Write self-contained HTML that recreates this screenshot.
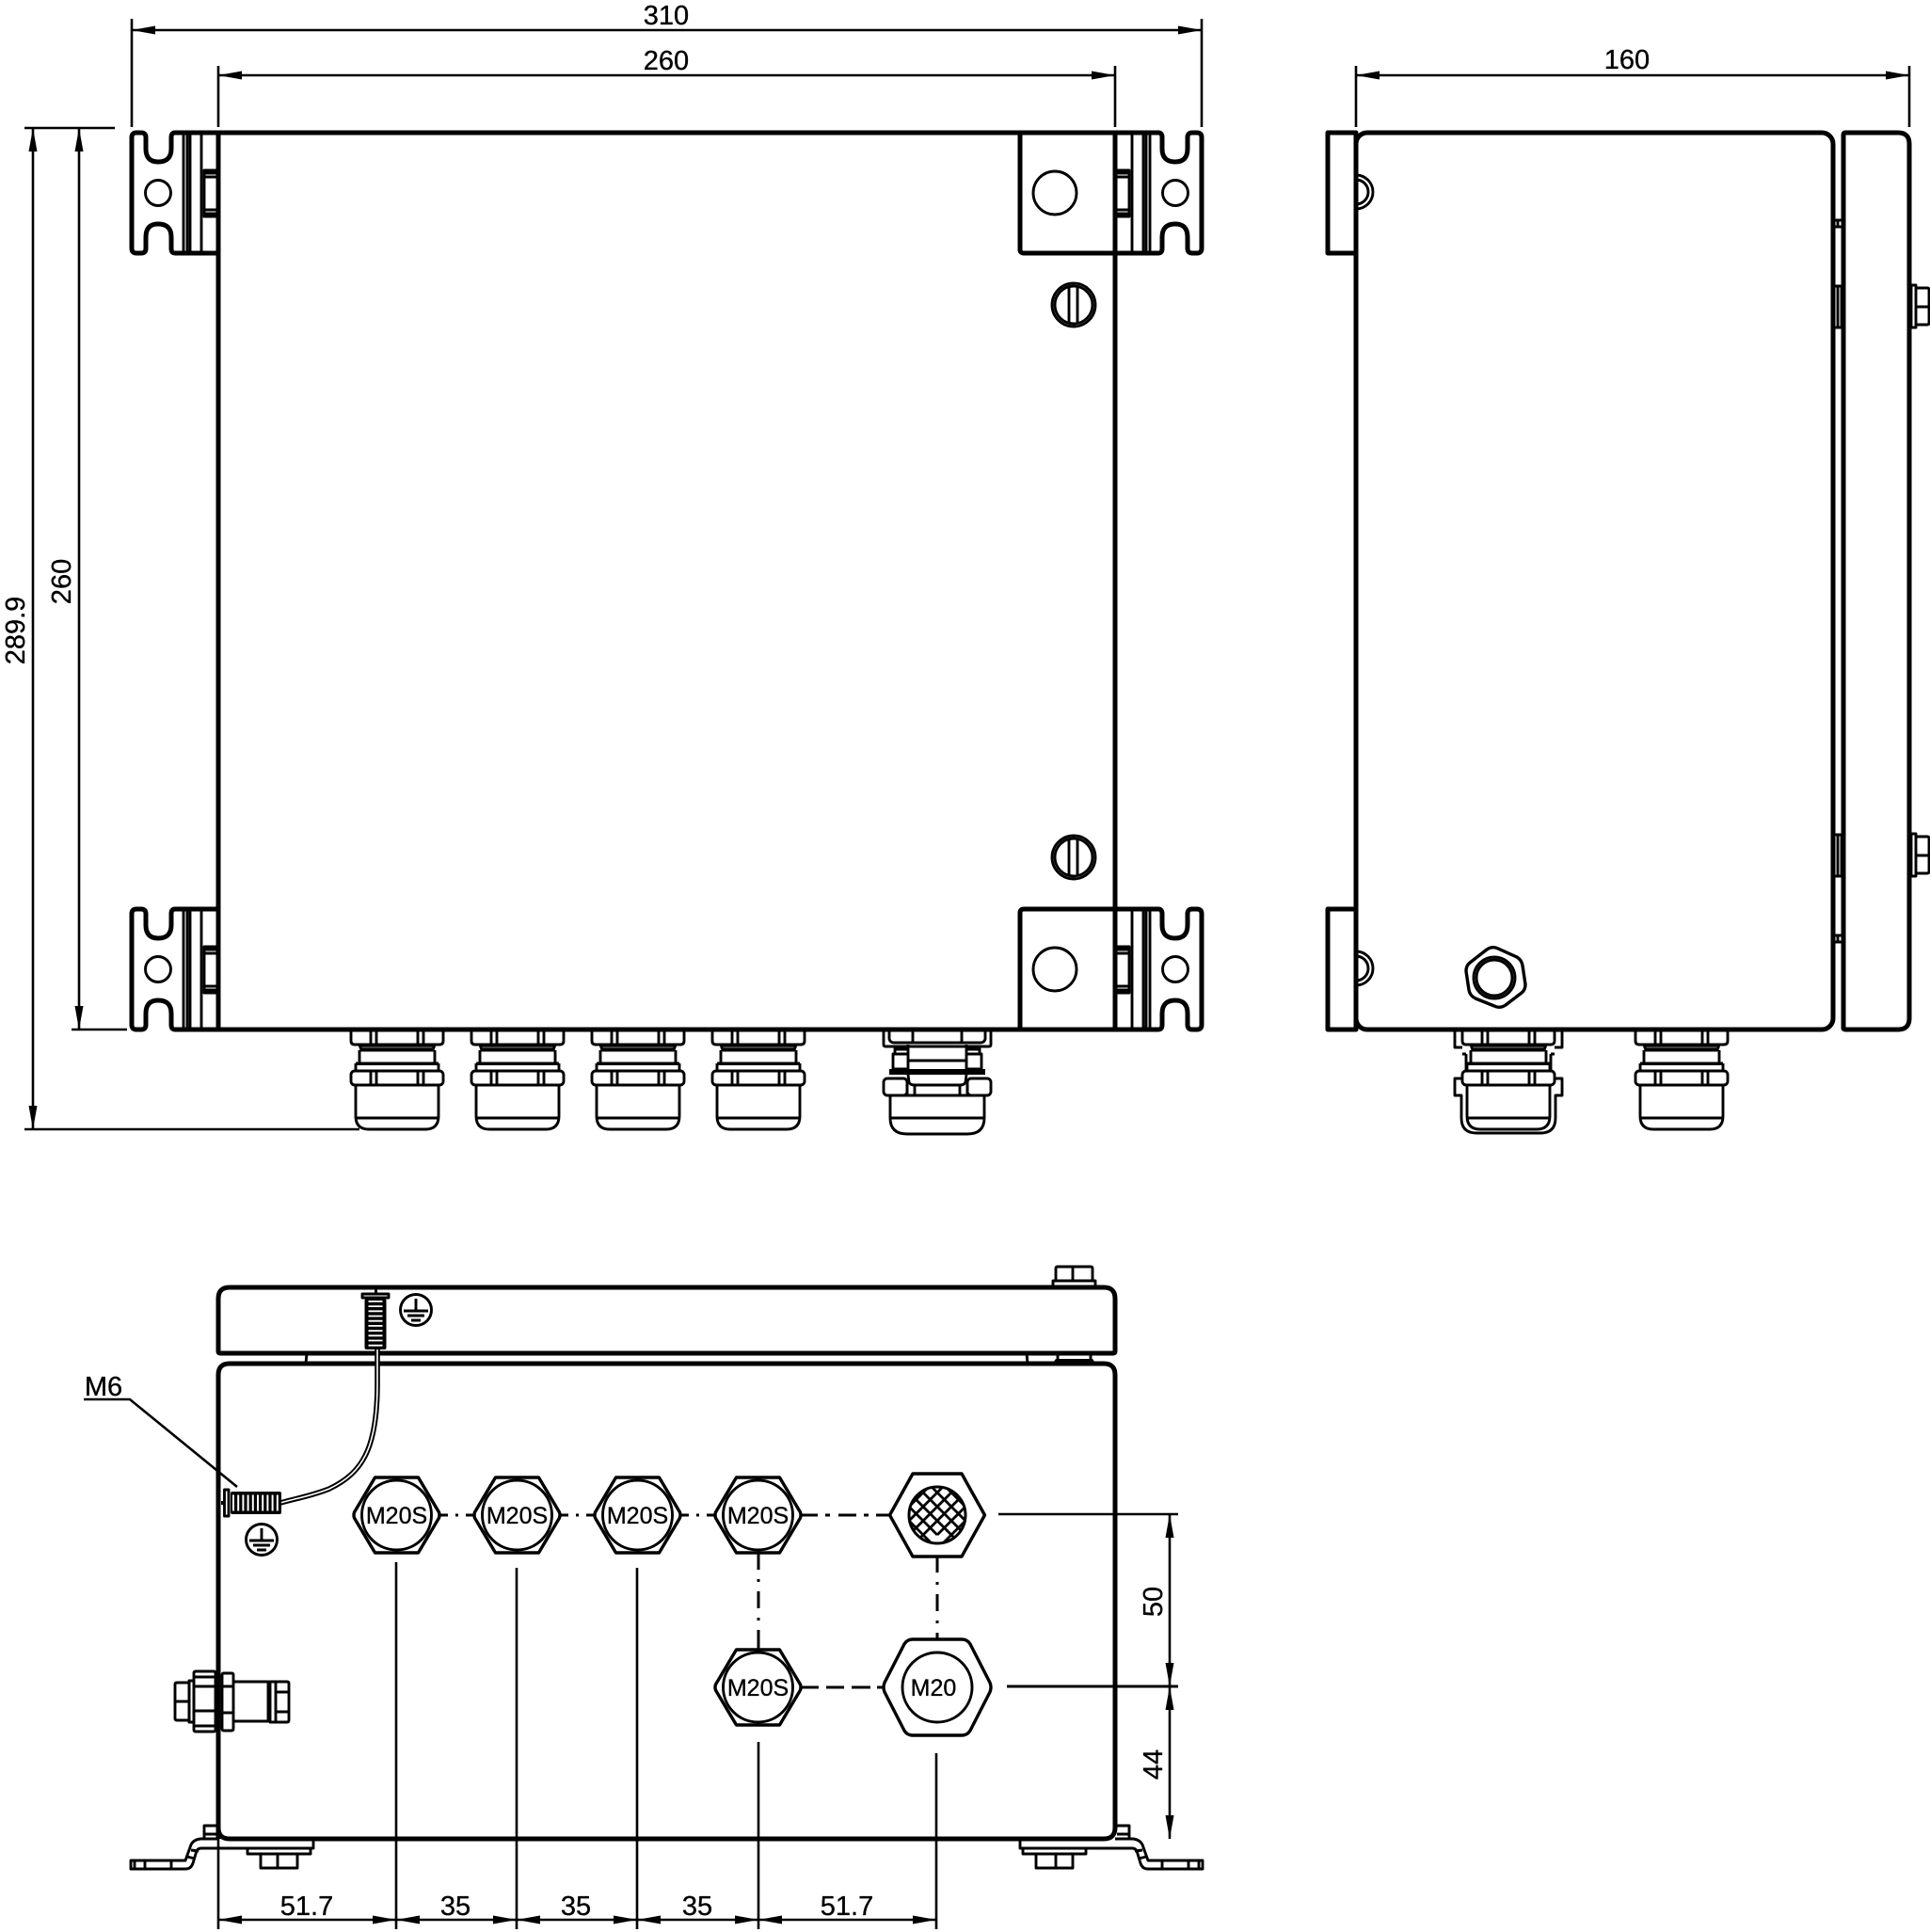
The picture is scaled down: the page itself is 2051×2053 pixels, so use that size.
<!DOCTYPE html>
<html><head><meta charset="utf-8"><style>
html,body{margin:0;padding:0;background:#fff}
svg{display:block}
text{font-family:"Liberation Sans",sans-serif;font-size:29px;fill:#000;text-anchor:middle;stroke:#000;stroke-width:.35}
.m{fill:none;stroke:#000;stroke-width:5;stroke-linejoin:round}
.t{fill:none;stroke:#000;stroke-width:2.9;stroke-linejoin:round}
.f{fill:none;stroke:#000;stroke-width:1.5}
.d{fill:none;stroke:#000;stroke-width:2.6;marker-start:url(#a);marker-end:url(#a)}
.e{fill:none;stroke:#000;stroke-width:2.6}
.c{fill:none;stroke:#000;stroke-width:3}
.h{fill:#fff;stroke:#000;stroke-width:3.4;stroke-linejoin:round}
</style></head><body>
<svg xmlns="http://www.w3.org/2000/svg" width="2051" height="2053" viewBox="0 0 2051 2053">
<defs>
<marker id="a" markerUnits="userSpaceOnUse" markerWidth="25" markerHeight="10" refX="25" refY="5" orient="auto-start-reverse" overflow="visible"><path d="M25,5 L0,0.5 L0,9.5 Z" fill="#000"/></marker>
<g id="bracket">
<path class="m" d="M232,141 H186 Q182,141 182,146 V158 Q182,172 168,172 Q155,172 155,158 V146 Q155,141 150,141 H145 Q140,141 140,146 V264 Q140,269 145,269 H150 Q155,269 155,264 V252 Q155,238 168,238 Q182,238 182,252 V264 Q182,269 186,269 H232"/>
<circle class="t" cx="168" cy="205" r="13.5"/>
<path class="t" d="M195,141V269M199,141V269M202,141V269M214,141V269"/>
<path class="t" d="M232,181H217V230H232M217,188H232M217,223H232M217,184H232M217,227H232"/>
</g>
<g id="gland">
<path class="t" d="M-49,0V12Q-49,16 -45,16H45Q49,16 49,12V0M-28,0V16M-22,0V16M22,0V16M28,0V16"/>
<path class="t" d="M-40,16L-38,22H38L40,16"/>
<path class="f" d="M-38,18H38M-38,20H38"/>
<path class="t" d="M-40,22V36M40,22V36"/>
<rect x="-44" y="34.5" width="88" height="3.5" fill="#000"/>
<path class="t" d="M-44,36V44M44,36V44"/>
<rect class="t" x="-49" y="44" width="98" height="15" rx="4"/>
<path class="t" d="M-28,44V59M-22,44V59M22,44V59M28,44V59"/>
<path class="t" d="M-44,59V92Q-44,106 -30,106H30Q44,106 44,92V59M-44,94H44"/>
</g>
<g id="screw">
<circle class="t" cx="0" cy="0" r="23"/><circle class="t" cx="0" cy="0" r="20"/>
<path class="t" d="M-5,-19V19M4,-19V19"/>
</g>
<g id="sidebolt">
<path class="t" d="M2031,-21V24H2036V-21ZM2036,-18H2048Q2050,-18 2050,-16V19Q2050,21 2048,21H2036M2036,2H2050"/>
<path class="t" d="M1950,-20H1957V24H1950M1953,-20V24"/>
</g>
<g id="pe">
<circle cx="0" cy="0" r="16.5" fill="#fff" stroke="#000" stroke-width="2.9"/>
<path class="t" d="M0,-12V1M-13,1H13M-9,6H9M-5,11H5"/>
</g>
<g id="hexS">
<path class="h" d="M-23,-40H23L45,-3Q46,0 45,3L23,40H-23L-45,3Q-46,0 -45,-3Z"/>
<circle class="t" cx="0" cy="0" r="37"/>
<text x="0" y="9" style="font-size:25px">M20S</text>
</g>
<clipPath id="mc"><circle cx="996" cy="1610" r="30"/></clipPath>
<g id="foot">
<path class="t" d="M217,1954V1940H230M217,1949H230"/>
<path class="t" d="M232,1954H213Q204,1955 202,1963L197,1977H139V1986H197Q203,1986 205,1980L208,1970Q209,1964 214,1964H333V1954"/>
<path class="t" d="M143,1977V1986M154,1977V1986M182,1977V1986M199,1973L207,1975M203,1966L211,1967"/>
<path class="t" d="M263,1964V1970H330V1964M277,1970V1985H316V1970M295,1970V1985"/>
</g>
</defs>

<rect width="2051" height="2053" fill="#fff"/>

<!-- FRONT VIEW -->
<use href="#bracket"/>
<use href="#bracket" y="825"/>
<use href="#bracket" transform="matrix(-1 0 0 1 1417 0)"/>
<use href="#bracket" transform="matrix(-1 0 0 1 1417 825)"/>
<rect class="m" x="232" y="141" width="953" height="953"/>
<path class="m" d="M1185,141H1084V265Q1084,269 1088,269H1185"/>
<path class="m" d="M1185,966H1088Q1084,966 1084,970V1094"/>
<circle class="t" cx="1121" cy="205" r="23"/>
<circle class="t" cx="1121" cy="1030" r="23"/>
<use href="#screw" x="1141" y="324"/>
<use href="#screw" x="1141" y="911"/>
<use href="#gland" x="422" y="1094"/>
<use href="#gland" x="550" y="1094"/>
<use href="#gland" x="678" y="1094"/>
<use href="#gland" x="806" y="1094"/>
<!-- M20 gland -->
<g transform="translate(996,0)">
<path class="t" d="M-57,1094V1110Q-57,1112 -55,1112H55Q57,1112 57,1110V1094M-51,1094V1104Q-50,1108 -46,1108H46Q50,1108 51,1104V1094M-26,1094V1108M26,1094V1108"/>
<path class="t" d="M-47,1120V1136H-31V1120ZM31,1120V1136H47V1120ZM-31,1110V1120M31,1110V1120M-45,1112V1120H-31M45,1112V1120H31M-31,1127H31M-45,1115H-31M31,1115H45"/>
<rect x="-51" y="1136" width="102" height="6" fill="#000"/>
<path class="t" d="M-31,1142L-30,1150Q-29,1153 -24,1153H24Q29,1153 30,1150L31,1142M-26,1138H26"/>
<rect class="t" x="-57" y="1146" width="25" height="18" rx="4"/>
<rect class="t" x="32" y="1146" width="25" height="18" rx="4"/>
<path class="t" d="M-24,1153V1163M24,1153V1163M-32,1153V1163M32,1153V1163"/>
<path class="m" d="M-50,1164H50" style="stroke-width:3"/>
<path class="t" d="M-50,1164V1188Q-50,1205 -32,1205H32Q50,1205 50,1188V1164M-50,1188H50"/>
</g>

<!-- front dims -->
<path class="d" d="M140,32H1277"/>
<path class="e" d="M140,20V135M1277,20V135"/>
<path class="d" d="M232,80H1185"/>
<path class="e" d="M232,70V135M1185,70V135"/>
<path class="d" d="M35,136V1200"/>
<path class="d" d="M84,136V1094"/>
<path class="e" d="M26,136H122M76,1094H135M26,1200H382"/>
<text x="708" y="26">310</text>
<text x="708" y="74">260</text>
<text transform="translate(26,670) rotate(-90)">289.9</text>
<text transform="translate(75,618) rotate(-90)">260</text>

<!-- SIDE VIEW -->
<rect class="m" x="1411" y="141" width="30" height="128"/>
<rect class="m" x="1411" y="966" width="30" height="128"/>
<path class="t" d="M1441,186A18,18 0 0 1 1441,222M1441,191A13,13 0 0 1 1441,217"/>
<path class="t" d="M1441,1011A18,18 0 0 1 1441,1047M1441,1016A13,13 0 0 1 1441,1042"/>
<rect class="m" x="1441" y="141" width="507" height="953" rx="12"/>
<path class="m" d="M1959,1094V143Q1959,141 1961,141H2017Q2029,141 2029,153V1082Q2029,1094 2017,1094H1961Q1959,1094 1959,1092"/>
<path class="t" d="M1950,234H1958V241H1950M1953,234V241"/>
<path class="t" d="M1950,994H1958V1001H1950M1953,994V1001"/>
<use href="#sidebolt" y="324"/>
<use href="#sidebolt" y="907"/>
<path class="d" d="M1441,80H2029"/>
<path class="e" d="M1441,70V135M2029,70V135"/>
<text x="1729" y="73">160</text>
<!-- side hex gland -->
<path class="h" d="M1580,1009Q1586,1005 1592,1008L1612,1017Q1617,1020 1618,1026L1621,1046Q1621,1052 1617,1055L1600,1068Q1594,1072 1588,1069L1568,1061Q1562,1058 1561,1052L1558,1032Q1558,1026 1562,1023Z"/>
<circle class="t" cx="1588" cy="1039" r="22"/><circle class="t" cx="1588" cy="1039" r="19"/>
<use href="#gland" x="1603" y="1094"/>
<use href="#gland" x="1787" y="1094"/>
<path class="t" d="M1546,1094V1113H1554M1660,1094V1113H1652"/>
<path class="t" d="M1554,1120H1558M1558,1120V1138M1648,1120V1138M1648,1120H1652"/>
<path class="t" d="M1554,1146H1546V1164H1553V1188Q1553,1204 1569,1204H1637Q1653,1204 1653,1188V1164H1660V1146H1652"/>

<!-- BOTTOM VIEW -->
<path class="m" d="M232,1436V1380Q232,1368 244,1368H1173Q1185,1368 1185,1380V1436Q1185,1438 1183,1438H234Q232,1438 232,1436Z"/>
<path class="m" d="M232,1954V1461Q232,1449 244,1449H1173Q1185,1449 1185,1461V1942Q1185,1954 1173,1954H244Q232,1954 232,1942" />
<path class="t" d="M326,1438L325,1449M1091,1438L1092,1449"/>
<path class="t" d="M1119,1366V1361H1164V1366M1122,1361V1348Q1122,1346 1124,1346H1159Q1161,1346 1161,1348V1361M1140,1346V1361"/>
<path class="t" d="M1124,1440V1444M1159,1440V1444"/>
<path d="M1122,1444H1161L1164,1448H1119Z" fill="#000"/>
<use href="#pe" x="442" y="1392"/>
<use href="#pe" x="278" y="1636"/>
<!-- earth cable -->
<path d="M401,1433V1470C401,1540 385,1565 350,1582C330,1590 315,1592 298,1597" fill="none" stroke="#000" stroke-width="5.6"/>
<path d="M401,1433V1470C401,1540 385,1565 350,1582C330,1590 315,1592 298,1597" fill="none" stroke="#fff" stroke-width="1.6"/>
<!-- top earth screw -->
<path d="M398,1370H401V1375H398Z" fill="#000"/>
<rect class="t" x="385" y="1375" width="28" height="4" fill="#fff"/>
<rect x="387.5" y="1380" width="23" height="54" rx="2" fill="#000"/>
<path d="M399,1382V1432" stroke="#fff" stroke-width="15" stroke-dasharray="1.8 3.4" fill="none"/>
<!-- left earth screw -->
<path d="M235,1595H238V1599H235Z" fill="#000"/>
<rect class="t" x="238.5" y="1583" width="4.5" height="28" fill="#fff"/>
<rect x="245" y="1585" width="54" height="24" rx="2" fill="#000"/>
<path d="M247,1597H297" stroke="#fff" stroke-width="17" stroke-dasharray="2 3.2" fill="none"/>
<!-- M6 -->
<path class="e" d="M89,1487H138L252,1580"/>
<text x="110" y="1483" style="font-size:29px">M6</text>

<!-- cable glands front-face -->
<path class="c" d="M467,1610H476M484,1610H487M495,1610H504"/>
<path class="c" d="M595,1610H604M612,1610H615M623,1610H632"/>
<path class="c" d="M723,1610H732M740,1610H743M751,1610H760"/>
<path class="c" d="M851,1610H869M877,1610H882M891,1610H910M918,1610H923M931,1610H946"/>
<path class="c" d="M806,1650V1668M806,1678V1681M806,1691V1709M806,1719V1722M806,1732V1753"/>
<path class="c" d="M996,1654V1671M996,1681V1684M996,1694V1712M996,1722V1725M996,1735V1742"/>
<path class="c" d="M851,1793H870M878,1793H897M905,1793H925M932,1793H938"/>
<use href="#hexS" x="421.5" y="1610"/>
<use href="#hexS" x="549.5" y="1610"/>
<use href="#hexS" x="677.5" y="1610"/>
<use href="#hexS" x="805.5" y="1610"/>
<use href="#hexS" x="805.5" y="1793"/>
<path class="h" d="M970,1566H1022L1046.5,1610L1022,1654H970L945.5,1610Z"/>
<circle cx="996" cy="1610" r="30" fill="#fff" stroke="#000" stroke-width="3"/>
<g clip-path="url(#mc)" stroke="#000" stroke-width="2.8" fill="none">
<path d="M954,1589L996,1631M954,1604L1017,1667M954,1619L1002,1667M954,1634L987,1667M954,1574L1038,1658M962,1567L1040,1645M977,1567L1040,1630M992,1567L1040,1615M1007,1567L1040,1600M1022,1567L1040,1585"/>
<path d="M1038,1589L996,1631M1038,1604L975,1667M1038,1619L990,1667M1038,1634L1005,1667M1038,1574L954,1658M1030,1567L952,1645M1015,1567L952,1630M1000,1567L952,1615M985,1567L952,1600M970,1567L952,1585"/>
</g>
<path class="h" d="M970,1742H1022Q1028,1742 1031,1747L1052,1788Q1054,1793 1052,1798L1031,1839Q1028,1844 1022,1844H970Q964,1844 961,1839L940,1798Q938,1793 940,1788L961,1747Q964,1742 970,1742Z"/>
<circle class="t" cx="996" cy="1793" r="37"/>
<text x="992" y="1802" style="font-size:25px">M20</text>

<!-- bolt left -->
<path class="t" d="M186,1790Q186,1788 188,1788H201V1828H188Q186,1828 186,1826ZM186,1808H201"/>
<path class="t" d="M201,1786H206V1830H201Z"/>
<path class="t" d="M206,1778Q206,1776 208,1776H227Q229,1776 229,1778V1838Q229,1840 227,1840H208Q206,1840 206,1838ZM206,1792H229M206,1818H229M206,1782L229,1782M206,1834H229"/>
<path class="t" d="M229,1781H232M229,1835H232M235,1781H236M235,1835H236"/>
<path class="t" d="M236,1780Q236,1778 238,1778H246Q248,1778 248,1780V1837Q248,1839 246,1839H238Q236,1839 236,1837ZM236,1792H248M236,1820H248"/>
<path class="t" d="M248,1787H285V1829H248M285,1787Q287,1808 285,1829"/>
<path class="t" d="M287,1787H293V1830H287Z"/>
<path class="t" d="M293,1787H305Q307,1787 307,1789V1828Q307,1830 305,1830H293M293,1798H307M293,1819H307"/>

<!-- feet -->
<use href="#foot"/>
<use href="#foot" transform="matrix(-1 0 0 1 1417 0)"/>

<!-- bottom dims -->
<path class="e" d="M232,1954V2050M421,1660V2050M549,1666V2050M677,1666V2050M806,1851V2050M995,1863V2050"/>
<path class="d" d="M232,2040H421"/>
<path class="d" d="M421,2040H549"/>
<path class="d" d="M549,2040H677"/>
<path class="d" d="M677,2040H806"/>
<path class="d" d="M806,2040H995"/>
<text x="326" y="2035">51.7</text>
<text x="484" y="2035">35</text>
<text x="612" y="2035">35</text>
<text x="741" y="2035">35</text>
<text x="900" y="2035">51.7</text>

<!-- right dims -->
<path class="e" d="M1061,1609H1252"/>
<path class="c" d="M1070,1792H1252"/>
<path class="d" d="M1243,1609V1792"/>
<path class="d" d="M1243,1792V1954"/>
<text transform="translate(1235,1702) rotate(-90)">50</text>
<text transform="translate(1235,1875) rotate(-90)">44</text>
</svg>
</body></html>
